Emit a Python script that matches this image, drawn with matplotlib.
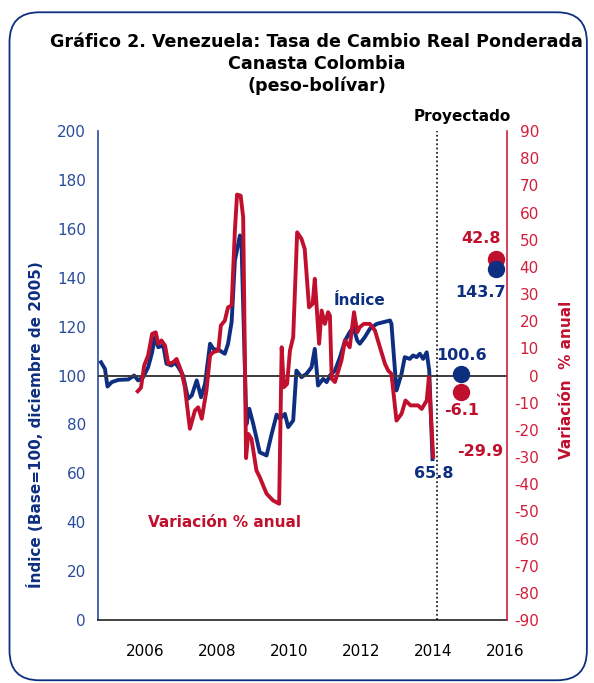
import matplotlib
matplotlib.use("Agg")
import matplotlib.pyplot as plt
from matplotlib.patches import FancyBboxPatch

# ---------------- data ----------------
idx_years = [2004.78, 2004.89, 2004.96, 2005.08, 2005.26, 2005.54, 2005.70, 2005.81, 2005.95,
             2006.09, 2006.19, 2006.28, 2006.37, 2006.51, 2006.60, 2006.74, 2006.83, 2006.93,
             2007.06, 2007.20, 2007.30, 2007.44, 2007.56, 2007.67, 2007.81, 2007.90,
             2008.08, 2008.22, 2008.31, 2008.41, 2008.50, 2008.64, 2008.68, 2008.82, 2008.90,
             2009.01, 2009.19, 2009.38, 2009.52, 2009.66, 2009.75, 2009.89, 2009.98,
             2010.12, 2010.21, 2010.35, 2010.49, 2010.63, 2010.72, 2010.81, 2010.95,
             2011.05, 2011.14, 2011.28, 2011.42, 2011.56, 2011.69, 2011.79, 2011.90, 2011.97,
             2012.11, 2012.25, 2012.44, 2012.62, 2012.81, 2012.85, 2012.99,
             2013.13, 2013.22, 2013.36, 2013.45, 2013.55, 2013.64, 2013.73, 2013.83, 2013.90, 2013.99]
idx_values = [105.4, 102.7, 95.5, 97.3, 98.2, 98.4, 100.0, 98.0, 99.3,
              103.4, 108.9, 115.7, 111.6, 112.3, 104.8, 104.1, 105.4, 103.4,
              100.0, 90.5, 91.8, 98.0, 91.1, 96.6, 113.0, 110.9,
              110.2, 108.9, 113.0, 122.0, 147.0, 157.3, 156.0, 80.0, 86.4,
              80.2, 68.6, 67.3, 76.0, 84.0, 82.3, 84.3, 78.9,
              81.6, 102.0, 99.3, 100.7, 103.4, 110.9, 95.9, 98.6,
              97.3, 100.0, 102.0, 107.5, 114.3, 117.7, 119.8, 114.3, 113.0,
              115.7, 119.1, 121.1, 121.8, 122.5, 121.1, 93.9,
              100.7, 107.5, 106.8, 108.2, 107.5, 108.9, 106.8, 109.5, 102.0, 65.8]

var_years = [2005.80, 2005.89, 2005.98, 2006.09, 2006.20, 2006.30, 2006.37, 2006.46, 2006.56,
             2006.65, 2006.79, 2006.88, 2007.02, 2007.11, 2007.25, 2007.39, 2007.48, 2007.58,
             2007.71, 2007.81, 2007.90, 2008.04, 2008.11, 2008.22, 2008.31, 2008.41, 2008.50,
             2008.56, 2008.66, 2008.73, 2008.81, 2008.87, 2008.96, 2009.10, 2009.19, 2009.38,
             2009.56, 2009.73, 2009.80, 2009.86, 2009.95, 2010.03, 2010.12, 2010.23, 2010.35,
             2010.44, 2010.56, 2010.66, 2010.72, 2010.84, 2010.91, 2011.00, 2011.09, 2011.14,
             2011.19, 2011.28, 2011.46, 2011.56, 2011.69, 2011.81, 2011.90, 2011.97, 2012.08,
             2012.25, 2012.39, 2012.53, 2012.67, 2012.76, 2012.85, 2012.99, 2013.13, 2013.24,
             2013.38, 2013.59, 2013.69, 2013.83, 2013.89, 2014.01]
var_values = [-5.8, -4.5, 3.7, 7.4, 15.3, 15.9, 11.7, 12.9, 11.0,
              4.3, 4.9, 6.1, 1.2, -4.3, -19.6, -12.9, -11.7, -15.9,
              -5.5, 7.4, 8.6, 9.2, 18.4, 20.2, 25.1, 25.8, 53.4,
              66.6, 66.2, 58.3, -30.4, -21.5, -23.3, -35.0, -37.4, -43.5,
              -46.0, -47.2, 10.4, -4.3, -3.1, 9.2, 14.1, 52.7, 50.3,
              46.6, 25.1, 26.4, 35.6, 11.7, 23.9, 19.0, 23.3, 22.1,
              -1.2, -2.4, 5.5, 12.9, 10.4, 23.3, 15.9, 17.8, 19.0,
              19.0, 16.6, 10.4, 4.3, 1.8, 0.6, -16.6, -14.1, -9.2,
              -11.0, -11.0, -12.3, -9.2, -0.6, -29.9]

proj_years = [2014.78, 2015.75]
proj_idx = [100.6, 143.7]
proj_var = [-6.1, 42.8]
projection_start = 2014.12

x_ticks = [2006, 2008, 2010, 2012, 2014, 2016]
left_ticks = list(range(0, 201, 20))
right_ticks = list(range(-90, 91, 10))

# ---------------- style ----------------
NAVY = "#0e2f80"
RED = "#c0102e"
LBLUE = "#2a4c9c"
LRED = "#d11f3b"
plt.rcParams['font.family'] = ["DejaVu Sans"]
plt.rcParams['axes.unicode_minus'] = False

fig = plt.figure(figsize=(5.94, 6.83), dpi=100)
fig.patch.set_facecolor("white")

# rounded frame
frame = FancyBboxPatch((0.016, 0.004), 0.972, 0.978, transform=fig.transFigure,
                       boxstyle="round,pad=0,rounding_size=0.05", mutation_aspect=594/683,
                       fill=False, edgecolor=NAVY, linewidth=1.3, zorder=0)
fig.patches.append(frame)

ax = fig.add_axes([0.1658, 0.0922, 0.6877, 0.7160])
ax2 = ax.twinx()

xmin, xmax = 2004.71, 2016.06
ax.set_xlim(xmin, xmax)
ax.set_ylim(0, 200)
ax2.set_ylim(-90, 90)

ax.plot(idx_years, idx_values, color=NAVY, lw=2.8, solid_joinstyle='round', zorder=3)
ax2.axhline(0, color="#3c3c3c", lw=1.4, zorder=1)
ax2.plot(var_years, var_values, color=RED, lw=2.8, solid_joinstyle='round', zorder=3)

# projections
ax2.plot(proj_years, proj_var, 'o', color=RED, ms=11.5, ls='none', zorder=4)
ax2.plot(proj_years, proj_idx, 'o', color=NAVY, ms=11.5, ls='none', zorder=5,
         transform=ax.transData)

ax2.axvline(projection_start, ymin=0, ymax=1.0, color="black", lw=1.1, ls=(0, (1.2, 1.6)), zorder=2)

# axes styling
ax.set_xticks(x_ticks)
ax.set_xticklabels([str(t) for t in x_ticks])
ax.set_yticks(left_ticks)
ax2.set_yticks(right_ticks)
ax.tick_params(axis='x', length=0, pad=17, labelsize=11, colors="black")
ax.tick_params(axis='y', length=0, pad=9, labelsize=11, colors=LBLUE)
ax2.tick_params(axis='y', length=0, pad=23, labelsize=11, colors=LRED)
for lab in ax2.get_yticklabels():
    lab.set_horizontalalignment('right')

for a in (ax, ax2):
    a.spines['top'].set_visible(False)
ax.spines['right'].set_visible(False)
ax2.spines['left'].set_visible(False)
ax2.spines['bottom'].set_visible(False)
ax.spines['left'].set_color(LBLUE)
ax.spines['left'].set_linewidth(1.2)
ax.spines['bottom'].set_color("#222222")
ax.spines['bottom'].set_linewidth(1.2)
ax2.spines['right'].set_color(LRED)
ax2.spines['right'].set_linewidth(1.2)

# title
fig.text(0.533, 1 - 64/683, "Gráfico 2. Venezuela: Tasa de Cambio Real Ponderada\nCanasta Colombia\n(peso-bolívar)",
         ha='center', va='center', fontsize=12.6, fontweight='bold', color='black', linespacing=1.25)

# axis labels
fig.text(0.059, 1 - 425/683, "Índice (Base=100, diciembre de 2005)", rotation=90,
         ha='center', va='center', fontsize=11, fontweight='bold', color=NAVY)
fig.text(0.953, 1 - 380/683, "Variación  % anual", rotation=90,
         ha='center', va='center', fontsize=11, fontweight='bold', color=RED)

# annotations
ax.text(2011.97, 130.7, "Índice", ha='center', va='center', fontsize=11, fontweight='bold', color=NAVY)
ax.text(2008.22, 39.9, "Variación % anual", ha='center', va='center', fontsize=11, fontweight='bold', color=RED)
ax.text(2014.83, 205.9, "Proyectado", ha='center', va='center', fontsize=11, fontweight='bold',
        color='black', clip_on=False)
ax.text(2014.80, 108.2, "100.6", ha='center', va='center', fontsize=11.5, fontweight='bold', color=NAVY)
ax2.text(2014.80, -12.9, "-6.1", ha='center', va='center', fontsize=11.5, fontweight='bold', color=RED)
ax2.text(2015.33, 50.4, "42.8", ha='center', va='center', fontsize=11.5, fontweight='bold', color=RED)
ax.text(2015.33, 134.0, "143.7", ha='center', va='center', fontsize=11.5, fontweight='bold', color=NAVY)
ax.text(2014.03, 59.9, "65.8", ha='center', va='center', fontsize=11.5, fontweight='bold', color=NAVY)
ax2.text(2015.31, -28.0, "-29.9", ha='center', va='center', fontsize=11.5, fontweight='bold', color=RED)

fig.savefig("out.png", dpi=100)
